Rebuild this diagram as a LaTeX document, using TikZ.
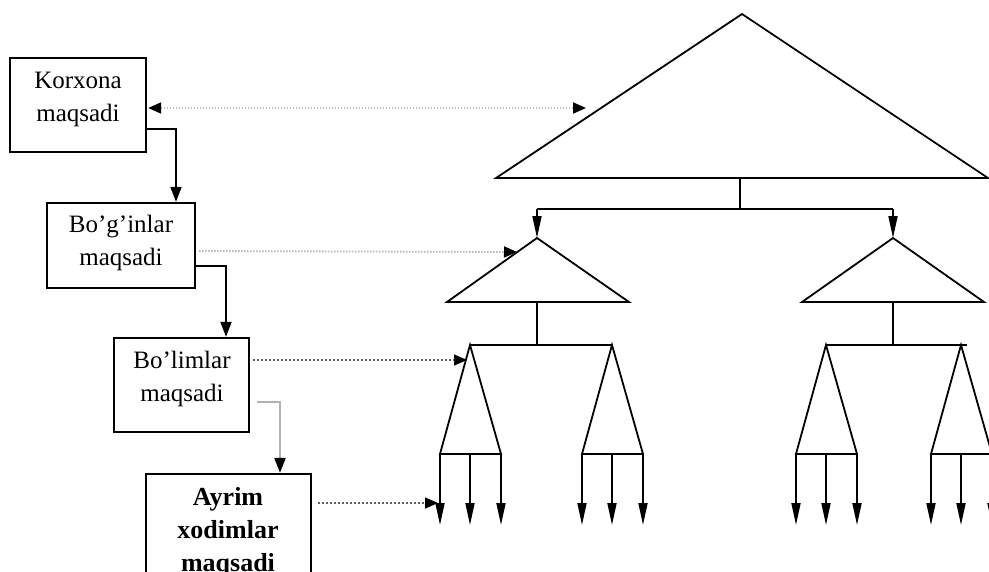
\documentclass[tikz,border=0pt]{standalone}
\usepackage{fontspec}
\setmainfont{Liberation Serif}
\usetikzlibrary{arrows.meta}
\begin{document}
\begin{tikzpicture}[x=1pt,y=-1pt,
  box/.style={draw=black, line width=2.3pt, inner sep=0pt, fill=white},
  lbl/.style={align=center, inner sep=0pt, font=\fontsize{25}{33}\selectfont},
  blbl/.style={align=center, inner sep=0pt, font=\bfseries\fontsize{26}{33}\selectfont},
  conn/.style={line width=2pt, -{Triangle[length=15pt,width=11pt]}},
  dots/.style={gray!55, line width=1.8pt, dash pattern=on 1.5pt off 1.5pt},
  ddots/.style={gray!75!black, line width=1.4pt, dash pattern=on 2pt off 2pt},
  dtip/.tip={Triangle[length=13pt,width=11pt,color=black]},
  tree/.style={line width=1.8pt, line join=miter},
  treearrow/.style={line width=1.8pt, -{Triangle[length=22pt,width=9pt]}}]
\useasboundingbox (0,0) rectangle (989,571);
\clip (0,0) rectangle (989,571);

% boxes
\node[box, minimum width=136pt, minimum height=94pt] (k) at (78,105) {};
\node[lbl] (kt) at (78,99.5) {Korxona\\maqsadi};
\node[box, minimum width=148pt, minimum height=85pt] (b) at (121,245.5) {};
\node[lbl] (bt) at (121,242.8) {Bo’g’inlar\\maqsadi};
\node[box, minimum width=135pt, minimum height=94pt] (l) at (181.5,385) {};
\node[lbl] (lt) at (182,378.7) {Bo’limlar\\maqsadi};
\node[box, minimum width=165pt, minimum height=126pt] (a) at (228.5,537) {};
\node[blbl] (at) at (228,531.9) {Ayrim\\xodimlar\\maqsadi};

% box connectors
\draw[conn] ([yshift=-24pt]k.east) -| ([xshift=55pt]b.north);
\draw[conn] ([yshift=-20.5pt]b.east) -| ([xshift=44.5pt]l.north);
\draw[line width=2pt, gray!60, -{Triangle[length=15pt,width=11pt,color=black]}]
  ([xshift=7pt,yshift=-17pt]l.east) -| ([xshift=51.5pt]a.north);

% tree
\coordinate (T) at (742,14);
\coordinate (TL) at (496,178);
\coordinate (TR) at (988,178);
\draw[tree] (T) -- (TL) -- (TR) -- cycle;
\coordinate (s0) at (740,178);
\coordinate (b0) at (740,209);
\coordinate (A) at (537,238);
\coordinate (B) at (893,238);
\draw[tree] (s0) -- (b0);
\draw[tree] (A |- b0) -- (B |- b0);
\draw[treearrow] (A |- b0) -- (A);
\draw[treearrow] (B |- b0) -- (B);
\draw[tree] (A) -- (447,302) -- (629,302) -- cycle;
\draw[tree] (B) -- (802,302) -- (984,302) -- cycle;
\draw[tree] (537,302) -- (537,345);
\draw[tree] (893,302) -- (893,345);
\draw[tree] (470,345) -- (612,345);
\draw[tree] (826,345) -- (967,345);
\foreach \x in {470,612,826,961}{
  \draw[tree] (\x,345) -- (\x-30,454) -- (\x+31,454) -- cycle;
  \foreach \d in {-30,0,31}{
    \draw[treearrow] (\x+\d,454) -- (\x+\d,525);
  }
}

% dotted links
\coordinate (t1) at (586,108);
\coordinate (t2) at (517,252);
\coordinate (t3) at (467,360);
\coordinate (t4) at (438,503);
\draw[dots, dtip-dtip] ([xshift=1pt,yshift=-3pt]k.east) -- (t1);
\draw[dots, -dtip] ([xshift=3pt,yshift=-5.5pt]b.east) -- (t2);
\draw[ddots, -dtip] ([xshift=3pt,yshift=25pt]l.east) -- (t3);
\draw[ddots, -dtip] ([xshift=6pt,yshift=34pt]a.east) -- (t4);
\end{tikzpicture}
\end{document}
